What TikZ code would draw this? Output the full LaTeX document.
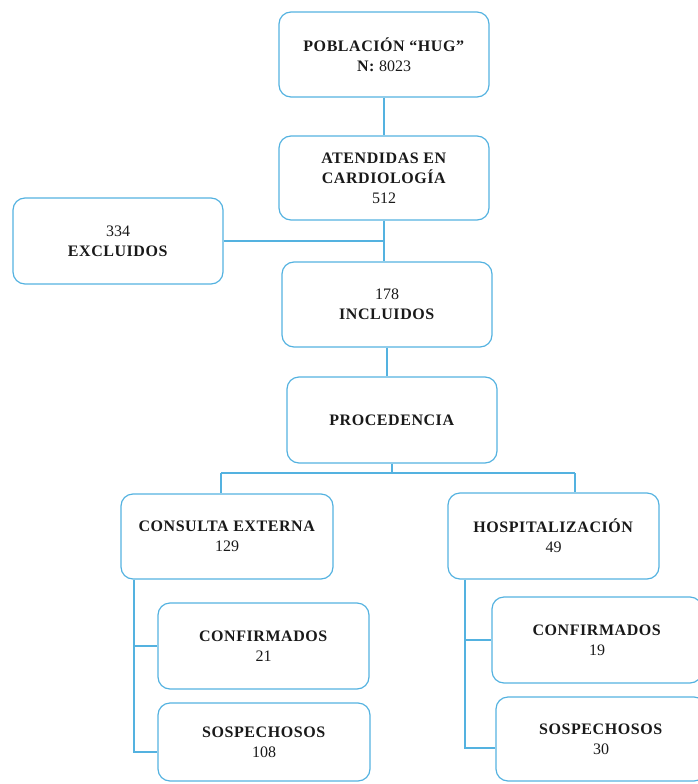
\documentclass[tikz,border=0pt]{standalone}
\usepackage{fontspec}
\setmainfont{Liberation Serif}[BoldFeatures={LetterSpace=3.5}]
\definecolor{lineblue}{RGB}{84,178,224}
\definecolor{txt}{RGB}{25,25,25}
\begin{document}
\begin{tikzpicture}[x=1pt,y=-1pt,
  box/.style={draw=lineblue, line width=1.2pt, rounded corners=12pt, minimum width=210pt, minimum height=85pt, align=center, text=txt, font=\fontsize{16}{20}\selectfont},
  conn/.style={draw=lineblue, line width=1.2pt}]
\useasboundingbox (0,0) rectangle (697,784);
\node[box] (b1) at (384,54.5) {\textbf{POBLACIÓN “HUG”}\\\textbf{N:} 8023};
\node[box, minimum height=84pt] (b2) at (384,178) {\textbf{ATENDIDAS EN}\\\textbf{CARDIOLOGÍA}\\512};
\node[box, minimum height=86pt] (exc) at (118,241) {334\\\textbf{EXCLUIDOS}};
\node[box] (inc) at (387,304.5) {178\\\textbf{INCLUIDOS}};
\node[box, minimum height=86pt] (proc) at (392,420) {\textbf{PROCEDENCIA}};
\node[box, minimum width=212pt] (ce) at (227,536.5) {\textbf{CONSULTA EXTERNA}\\129};
\node[box, minimum width=211pt, minimum height=86pt] (hosp) at (553.5,536) {\textbf{HOSPITALIZACIÓN}\\49};
\node[box, minimum width=211pt, minimum height=86pt] (confl) at (263.5,646) {\textbf{CONFIRMADOS}\\21};
\node[box, minimum width=212pt, minimum height=78pt] (sospl) at (264,742) {\textbf{SOSPECHOSOS}\\108};
\node[box, minimum height=86pt] (confr) at (597,640) {\textbf{CONFIRMADOS}\\19};
\node[box, minimum height=84pt] (sospr) at (601,739) {\textbf{SOSPECHOSOS}\\30};
% connectors
\draw[conn] (b1.south) -- (b2.north);
\draw[conn] (b2.south) -- (b2.south |- inc.north);
\coordinate (jx) at (b2.south |- exc.east);
\draw[conn] (exc.east) -- (jx);
\draw[conn] (inc.south) -- (inc.south |- proc.north);
\coordinate (jl) at (221,473);
\coordinate (jr) at (575,473);
\draw[conn] (proc.south) -- (proc.south |- jl);
\draw[conn] (jl) -- (jr);
\draw[conn] (jl) -- (jl |- ce.north);
\draw[conn] (jr) -- (jr |- hosp.north);
\coordinate (tl) at (134,752);
\draw[conn] (tl |- ce.south) -- (tl) -- (tl -| sospl.west);
\draw[conn] (tl |- confl.west) -- (confl.west);
\coordinate (tr) at (465,748);
\draw[conn] (tr |- hosp.south) -- (tr) -- (tr -| sospr.west);
\draw[conn] (tr |- confr.west) -- (confr.west);
\end{tikzpicture}
\end{document}
